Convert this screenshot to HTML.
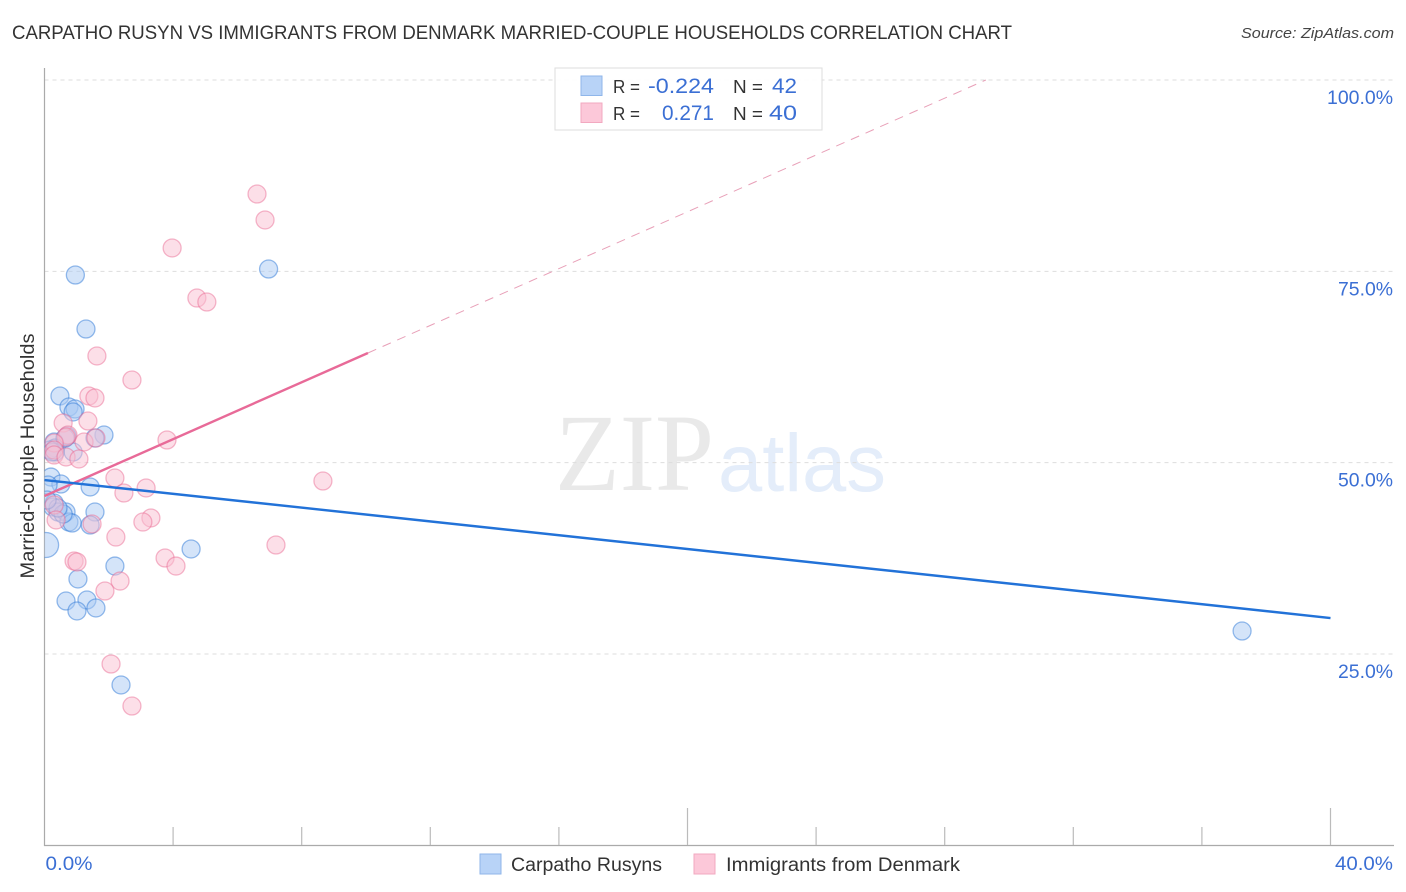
<!DOCTYPE html>
<html lang="en">
<head>
<meta charset="utf-8">
<title>Carpatho Rusyn vs Immigrants from Denmark Married-couple Households Correlation Chart</title>
<style>
html,body{margin:0;padding:0;background:#fff;width:1406px;height:892px;overflow:hidden}
svg{display:block;font-family:"Liberation Sans",sans-serif}
</style>
</head>
<body>
<svg id="chart" width="1406" height="892" viewBox="0 0 1406 892" xmlns="http://www.w3.org/2000/svg">
  <defs>
    <clipPath id="plot-clip"><rect x="44.5" y="60" width="1350" height="785"></rect></clipPath>
  </defs>
  <text x="12" y="39" font-size="19" fill="#333" textLength="1000" lengthAdjust="spacingAndGlyphs">CARPATHO RUSYN VS IMMIGRANTS FROM DENMARK MARRIED-COUPLE HOUSEHOLDS CORRELATION CHART</text>
  <text x="1394" y="38" font-size="15" font-style="italic" fill="#444" text-anchor="end" textLength="153" lengthAdjust="spacingAndGlyphs">Source: ZipAtlas.com</text>

  <g>
    <text x="555" y="490" font-family="'Liberation Serif',serif" font-size="110" fill="#e9e9e9" textLength="159" lengthAdjust="spacingAndGlyphs">ZIP</text>
    <text x="718" y="491" font-size="82" fill="#e4edfa" textLength="168" lengthAdjust="spacingAndGlyphs">atlas</text>
  </g>

  <g id="grid"></g>
  <g id="axes"></g>
  <g id="points" clip-path="url(#plot-clip)"></g>
  <g id="trends"></g>
  <g id="labels"></g>

  <text transform="translate(34,456) rotate(-90)" font-size="19" fill="#333" text-anchor="middle" textLength="245" lengthAdjust="spacingAndGlyphs">Married-couple Households</text>

  <g>
    <rect x="555" y="68" width="267" height="62" fill="#fff" fill-opacity="0.9" stroke="#ddd" stroke-width="1"></rect>
    <rect x="581" y="76" width="21" height="19.5" fill="#b8d3f7" stroke="#8fb6ea"></rect>
    <rect x="581" y="103" width="21" height="19.5" fill="#fcc8d9" stroke="#f2a9c0"></rect>
    <text x="613" y="93" font-size="18" fill="#333" textLength="27" lengthAdjust="spacingAndGlyphs">R =</text>
    <text x="648" y="93" font-size="21" fill="#3b6fd4" textLength="66" lengthAdjust="spacingAndGlyphs">-0.224</text>
    <text x="733" y="93" font-size="18" fill="#333" textLength="30" lengthAdjust="spacingAndGlyphs">N =</text>
    <text x="772" y="93" font-size="21" fill="#3b6fd4" textLength="25" lengthAdjust="spacingAndGlyphs">42</text>
    <text x="613" y="120" font-size="18" fill="#333" textLength="27" lengthAdjust="spacingAndGlyphs">R =</text>
    <text x="662" y="120" font-size="21" fill="#3b6fd4" textLength="52" lengthAdjust="spacingAndGlyphs">0.271</text>
    <text x="733" y="120" font-size="18" fill="#333" textLength="30" lengthAdjust="spacingAndGlyphs">N =</text>
    <text x="769" y="120" font-size="21" fill="#3b6fd4" textLength="28" lengthAdjust="spacingAndGlyphs">40</text>
  </g>

  <g>
    <rect x="480" y="854" width="21" height="20" fill="#b8d3f7" stroke="#8fb6ea"></rect>
    <text x="511" y="871" font-size="19" fill="#333" textLength="151" lengthAdjust="spacingAndGlyphs">Carpatho Rusyns</text>
    <rect x="694" y="854" width="21" height="20" fill="#fcc8d9" stroke="#f2a9c0"></rect>
    <text x="726" y="871" font-size="19" fill="#333" textLength="234" lengthAdjust="spacingAndGlyphs">Immigrants from Denmark</text>
  </g>
</svg>
<script>
const xTickValues = [0, 4, 8, 12, 16, 20, 24, 28, 32, 36, 40];
const xMajorTicks = [20, 40];
const xLabelValues = [0, 40];
const yTickValues = [100, 75, 50, 25];

const carpathoX = [0.96, 6.97, 1.29, 0.48, 0.76, 0.95, 0.89, 1.85, 1.57, 0.70, 0.30, 0.33, 0.89, 0.20, 0.51, 1.42, 0.11, 0.30, 0.26, 0.42, 0.67, 0.76, 0.86, 1.57, 1.42, 0.05, 4.56, 2.19, 1.04, 0.67, 1.32, 1.01, 1.60, 2.38, 37.25, 0.58, 0.33, 0.64, 0.17, 0.42, 0.08, 0.23];
const carpathoY = [74.52, 75.30, 67.46, 58.71, 57.27, 57.01, 56.62, 53.61, 53.22, 53.48, 52.70, 51.91, 51.39, 48.12, 47.21, 46.82, 47.08, 44.73, 44.20, 43.55, 43.55, 42.24, 42.11, 43.55, 41.85, 39.24, 38.72, 36.49, 34.80, 31.92, 32.05, 30.62, 31.01, 20.95, 28.00, 43.29, 51.39, 53.22, 51.65, 44.07, 45.12, 51.39];
const carpathoLargeIndex = 25;

const denmarkX = [6.61, 6.86, 3.97, 4.74, 5.05, 1.63, 2.72, 1.38, 1.57, 0.58, 1.35, 0.73, 0.67, 1.23, 3.81, 1.60, 0.30, 0.30, 0.30, 0.67, 1.07, 2.19, 2.47, 3.16, 8.66, 3.31, 3.06, 0.30, 0.36, 1.48, 2.22, 7.20, 3.75, 4.09, 0.92, 1.01, 2.35, 1.88, 2.07, 2.72];
const denmarkY = [85.10, 81.71, 78.05, 71.51, 70.99, 63.94, 60.80, 58.71, 58.45, 55.18, 55.44, 53.61, 53.35, 52.70, 52.96, 53.22, 52.57, 51.65, 51.00, 50.74, 50.48, 47.99, 46.03, 46.69, 47.60, 42.77, 42.24, 44.47, 42.51, 41.98, 40.28, 39.24, 37.54, 36.49, 37.15, 37.02, 34.53, 33.23, 23.69, 18.20];

const carpathoTrendX = [0, 40];
const carpathoTrendY = [47.73, 29.70];
const denmarkTrendX = [0, 10.06];
const denmarkTrendY = [45.64, 64.33];
const denmarkProjectionX = [10.06, 29.28];
const denmarkProjectionY = [64.33, 100];

const NS = 'http://www.w3.org/2000/svg';
function sx(v) { return 44.5 + v * 32.15; }
function sy(v) { return 80 + (100 - v) * 7.653; }
function make(tag, parentId, attrs) {
  const el = document.createElementNS(NS, tag);
  for (const k in attrs) el.setAttribute(k, attrs[k]);
  document.getElementById(parentId).appendChild(el);
  return el;
}

yTickValues.forEach(function (v) {
  const line = make('line', 'grid', { x1: 44.5, x2: 1394, y1: sy(v), y2: sy(v), stroke: '#ddd', 'stroke-width': 1, 'stroke-dasharray': '4 4' });
  
  
  const label = make('text', 'labels', { x: 1393, y: sy(v) + 24, 'font-size': 19, fill: '#3b6fd4', 'text-anchor': 'end', textLength: v === 100 ? 66 : 55, lengthAdjust: 'spacingAndGlyphs' });
  label.textContent = v.toFixed(1) + '%';
  
  
});

const yAxisLine = make('line', 'axes', { x1: 44.5, x2: 44.5, y1: 68, y2: 846, stroke: '#aaa', 'stroke-width': 1.2 });


const xAxisLine = make('line', 'axes', { x1: 44, x2: 1394, y1: 845.5, y2: 845.5, stroke: '#aaa', 'stroke-width': 1.2 });



xTickValues.forEach(function (v) {
  if (v === 0) return;
  const top = xMajorTicks.indexOf(v) >= 0 ? 808 : 827;
  const tick = make('line', 'axes', { x1: sx(v), x2: sx(v), y1: top, y2: 845, stroke: '#bbb', 'stroke-width': 1.2 });
  
  
});

xLabelValues.forEach(function (v, i) {
  const label = make('text', 'labels', { x: i === 0 ? sx(v) + 1 : 1393, y: 870, 'font-size': 19, fill: '#3b6fd4', 'text-anchor': i === 0 ? 'start' : 'end', textLength: i === 0 ? 47 : 58, lengthAdjust: 'spacingAndGlyphs' });
  label.textContent = v.toFixed(1) + '%';
  
  
});

carpathoX.forEach(function (v, i) {
  const c = make('circle', 'points', { cx: sx(v), cy: sy(carpathoY[i]), r: i === carpathoLargeIndex ? 12.5 : 9, fill: '#a9c9f3', 'fill-opacity': 0.5, stroke: '#2f79d8', 'stroke-opacity': 0.5, 'stroke-width': 1.3 });
  
  
});
denmarkX.forEach(function (v, i) {
  const c = make('circle', 'points', { cx: sx(v), cy: sy(denmarkY[i]), r: 9, fill: '#f9bfd2', 'fill-opacity': 0.5, stroke: '#e8638f', 'stroke-opacity': 0.45, 'stroke-width': 1.3 });
  
  
});

const projection = make('line', 'trends', { x1: sx(denmarkProjectionX[0]), y1: sy(denmarkProjectionY[0]), x2: sx(denmarkProjectionX[1]), y2: sy(denmarkProjectionY[1]), stroke: '#e8a0b8', 'stroke-width': 1, 'stroke-dasharray': '9 7' });


const denmarkTrend = make('line', 'trends', { x1: sx(denmarkTrendX[0]), y1: sy(denmarkTrendY[0]), x2: sx(denmarkTrendX[1]), y2: sy(denmarkTrendY[1]), stroke: '#e86a98', 'stroke-width': 2.4 });


const carpathoTrend = make('line', 'trends', { x1: sx(carpathoTrendX[0]), y1: sy(carpathoTrendY[0]), x2: sx(carpathoTrendX[1]), y2: sy(carpathoTrendY[1]), stroke: '#2272d8', 'stroke-width': 2.4 });


</script>
</body>
</html>
